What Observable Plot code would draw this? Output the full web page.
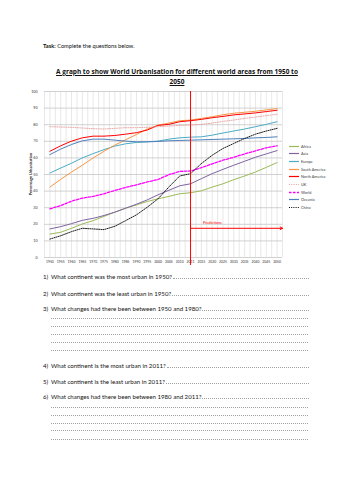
<!DOCTYPE html>
<html>
<head>
<meta charset="utf-8">
<script src="https://cdn.jsdelivr.net/npm/d3@7"></script>
<script src="https://cdn.jsdelivr.net/npm/@observablehq/plot@0.6"></script>
<style>
  html, body { margin: 0; padding: 0; background: #fff; }
  body { width: 353px; height: 500px; position: relative; overflow: hidden; font-family: Lato, "Open Sans", sans-serif; color: #111; }
  .abs { position: absolute; white-space: nowrap; }
  #task { left: 43px; top: 42px; font-size: 5.7px; }
  #title { left: 40px; width: 274px; top: 67px; font-size: 6.5px; font-weight: bold; text-align: center; line-height: 10.4px; text-decoration: underline; font-family: "Open Sans", Lato, sans-serif; }
  #chart { position: absolute; left: 0; top: 60px; }
  #ytitle { left: 30px; top: 174px; font-size: 3.9px; font-weight: bold; transform: translate(-50%, -50%) rotate(-90deg); }
  #legend .item { position: absolute; left: 289px; font-size: 3.8px; color: #404040; display: flex; align-items: center; }
  #legend svg { margin-right: 1px; }
  .q { position: absolute; left: 43px; width: 266px; display: flex; align-items: baseline; font-size: 6.1px; }
  .q .n { width: 8px; flex: none; }
  .q .lead { flex: 1; border-bottom: 1px dotted #a0a0a0; margin-left: 1px; height: 0; }
  .ln { position: absolute; left: 51px; width: 257px; height: 0; border-bottom: 1px dotted #a0a0a0; }
</style>
</head>
<body>
<div id="task" class="abs"><b>Task:</b> Complete the questions below.</div>
<div id="title" class="abs">A graph to show World Urbanisation for different world areas from 1950 to<br>2050</div>
<div id="chart"></div>
<div id="ytitle" class="abs">Percentage Urbanisation</div>
<div id="legend"></div>
<div id="questions"></div>
<script>
// ---- data ----
const years = ["1950","1955","1960","1965","1970","1975","1980","1985","1990","1995","2000","2005","2010","2011","2015","2020","2025","2030","2035","2040","2045","2050"];
const yTicks = [0,10,20,30,40,50,60,70,80,90,100];
const africa       = [14.1,15.2,17.6,20.2,22.2,24.8,27.3,29.7,31.7,33.7,35.4,36.8,38.4,39.0,40.2,42.4,44.4,46.9,49.1,51.5,54.3,57.2];
const asia         = [17.2,18.6,20.4,22.4,23.6,25.3,27.3,29.7,32.1,34.7,37.8,40.5,43.2,44.4,47.5,50.5,53.1,55.6,58.0,60.4,62.4,64.4];
const europe       = [50.9,53.9,56.8,60.0,62.6,65.0,67.1,68.5,69.3,69.7,70.1,71.3,72.1,72.5,72.7,73.7,75.0,76.2,77.4,78.8,80.2,81.8];
const southAmerica = [42.4,47.1,51.5,55.6,60.0,64.0,67.7,70.9,74.1,77.4,79.7,81.0,82.4,82.8,83.8,84.8,86.0,86.9,87.5,88.1,88.9,89.7];
const northAmerica = [64.0,67.3,70.1,72.1,73.1,73.1,73.5,74.3,75.2,76.8,79.6,80.2,81.8,82.4,83.2,84.2,85.0,85.9,86.5,87.1,87.9,88.7];
const uk           = [78.8,78.6,78.4,78.0,77.6,77.4,77.8,78.2,78.2,78.4,78.8,79.2,79.6,79.8,80.2,81.0,82.0,82.8,83.8,84.6,85.5,86.3];
const world        = [29.3,31.3,33.9,35.8,36.8,38.4,40.4,42.2,43.8,45.5,47.0,49.9,51.9,52.1,54.1,56.4,58.6,60.4,62.4,64.2,66.1,67.3];
const oceania      = [62.0,65.3,68.1,70.3,71.3,71.3,70.7,70.1,69.7,69.7,69.9,70.3,70.5,70.7,70.9,71.1,71.3,71.5,71.7,72.1,72.3,72.7];
const china        = [11.1,13.1,15.6,17.6,17.2,16.8,18.8,22.2,25.7,30.3,35.4,42.5,49.1,50.5,56.6,61.6,65.7,68.7,71.7,74.3,76.2,77.8];
const predictionYear = "2011";
const predictionLabel = "Predictions";
const predictionLevel = 17.6;

const series = [
  {name: "Africa", values: africa, color: "#9BBB59", width: 1, dash: null},
  {name: "Asia", values: asia, color: "#8064A2", width: 1, dash: null},
  {name: "Europe", values: europe, color: "#4BACC6", width: 1, dash: null},
  {name: "South America", values: southAmerica, color: "#F79646", width: 1, dash: null},
  {name: "North America", values: northAmerica, color: "#FF0000", width: 1, dash: null},
  {name: "UK", values: uk, color: "#E6A0A0", width: 0.9, dash: "1,1.3"},
  {name: "World", values: world, color: "#FF00FF", width: 1.3, dash: "2.5,1.5"},
  {name: "Oceania", values: oceania, color: "#4F81BD", width: 1, dash: null},
  {name: "China", values: china, color: "#000000", width: 0.9, dash: "1,1.2"}
];

const idx = years.map((_, i) => i);
const predIdx = years.indexOf(predictionYear);

const lineMarks = series.map(s => Plot.line(idx, {
  x: i => i, y: i => s.values[i],
  stroke: s.color, strokeWidth: s.width, strokeDasharray: s.dash
}));

const chart = Plot.plot({
  width: 353, height: 212,
  marginLeft: 44, marginRight: 71, marginTop: 31, marginBottom: 15,
  style: {fontFamily: "Lato, sans-serif", fontSize: "3.6px", background: "transparent", overflow: "visible", color: "#333"},
  x: {domain: [-0.5, years.length - 0.5], axis: null},
  y: {domain: [0, 100], axis: null},
  marks: [
    Plot.ruleX(d3.range(-0.5, years.length, 0.5), {stroke: "#D9D9D9", strokeWidth: 0.6}),
    Plot.ruleY(yTicks, {stroke: "#BFBFBF", strokeWidth: 0.7}),
    Plot.axisY(yTicks, {tickSize: 0, tickPadding: 7, fontSize: 3.6, fill: "#333"}),
    Plot.axisX(idx, {tickSize: 0, tickPadding: 3, tickFormat: i => years[i], fontSize: 3.4, fill: "#333"}),
    ...lineMarks,
    Plot.ruleX([predIdx], {stroke: "#FF0000", strokeWidth: 1, insetBottom: -8}),
    Plot.arrow([predictionLevel], {x1: predIdx, x2: years.length - 0.5, y1: d => d, y2: d => d, stroke: "#FF0000", strokeWidth: 1, headLength: 4, bend: 0}),
    Plot.text([predictionLabel], {x: predIdx + 1.15, y: predictionLevel + 3.4, text: d => d, fill: "#FF0000", textAnchor: "start", fontSize: 3.8})
  ]
});
document.getElementById("chart").appendChild(chart);

// ---- legend ----
const legend = document.getElementById("legend");
const legendTop = 146, legendStep = 7.7;
series.forEach((s, k) => {
  const item = document.createElement("div");
  item.className = "item";
  item.style.top = (legendTop + k * legendStep - 2.5) + "px";
  item.innerHTML = `<svg width="11" height="5"><line x1="0" x2="10" y1="2.5" y2="2.5" stroke="${s.color}" stroke-width="${s.width + 0.2}" ${s.dash ? `stroke-dasharray="${s.dash}"` : ""}/></svg><span>${s.name}</span>`;
  legend.appendChild(item);
});

// ---- questions ----
const questions = [
  "What continent was the most urban in 1950?",
  "What continent was the least urban in 1950?",
  "What changes had there been between 1950 and 1980?",
  "What continent is the most urban in 2011?",
  "What continent is the least urban in 2011?",
  "What changes had there been between 1980 and 2011?"
];
const qTops = [273, 289.5, 305, 361.5, 377.5, 393];
const extraLines = {2: [318.3, 326.3, 334.3, 342.2, 350.2], 5: [406.7, 414.7, 422.5, 430.4, 438.7]};
const qbox = document.getElementById("questions");
questions.forEach((q, k) => {
  const d = document.createElement("div");
  d.className = "q";
  d.style.top = qTops[k] + "px";
  d.innerHTML = `<span class="n">${k + 1})</span><span>${q}</span><span class="lead"></span>`;
  qbox.appendChild(d);
  (extraLines[k] || []).forEach(y => {
    const l = document.createElement("div");
    l.className = "ln";
    l.style.top = y + "px";
    qbox.appendChild(l);
  });
});
</script>
</body>
</html>
